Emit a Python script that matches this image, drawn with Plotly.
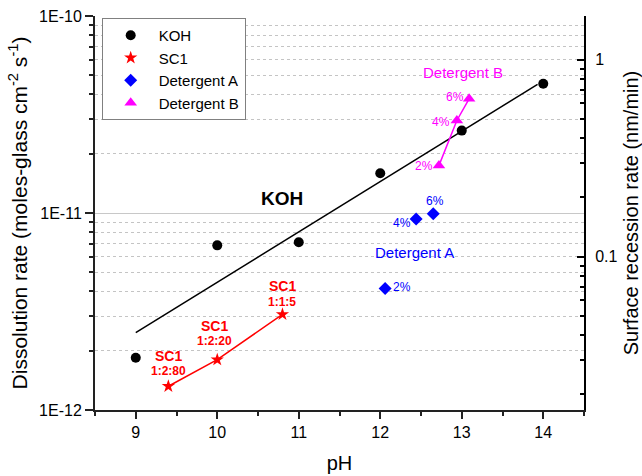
import math
import plotly.graph_objects as go

# ---------------- data ----------------
koh_ph = [9, 10, 11, 12, 13, 14]
koh_rate = [1.84e-12, 6.85e-12, 7.10e-12, 1.59e-11, 2.62e-11, 4.53e-11]

koh_fit_ph = [9.0, 13.93]
koh_fit_rate = [2.47e-12, 4.50e-11]

sc1_ph = [9.40, 10.0, 10.80]
sc1_rate = [1.32e-12, 1.80e-12, 3.06e-12]
sc1_ratio = ["1:2:80", "1:2:20", "1:1:5"]

detA_ph = [12.06, 12.44, 12.65]
detA_rate = [4.14e-12, 9.32e-12, 9.91e-12]
detA_conc = ["2%", "4%", "6%"]

detB_ph = [12.72, 12.94, 13.09]
detB_rate = [1.74e-11, 2.95e-11, 3.80e-11]
detB_conc = ["2%", "4%", "6%"]

x_ticks = [9, 10, 11, 12, 13, 14]
y_ticks = [1e-12, 1e-11, 1e-10]
y_ticktext = ["1E-12", "1E-11", "1E-10"]
y2_ticks = [0.1, 1]
y2_ticktext = ["0.1", "1"]

# conversion: nm/min of surface recession per (moles-glass cm^-2 s^-1)
recession_per_rate = 1.663e10

y_range = [-12, -10]
y2_range = [r + math.log10(recession_per_rate) for r in y_range]

FONT = "Liberation Sans, Arial, sans-serif"
RED = "#FF0000"
BLUE = "#0000FF"
MAG = "#FF00FF"

fig = go.Figure()

# KOH fit line
fig.add_trace(go.Scatter(x=koh_fit_ph, y=koh_fit_rate, mode="lines",
                         line=dict(color="black", width=1.5),
                         showlegend=False, hoverinfo="skip"))
# SC1 connecting line
fig.add_trace(go.Scatter(x=sc1_ph, y=sc1_rate, mode="lines",
                         line=dict(color=RED, width=1.5),
                         showlegend=False, hoverinfo="skip"))
# Detergent B connecting line
fig.add_trace(go.Scatter(x=detB_ph, y=detB_rate, mode="lines",
                         line=dict(color=MAG, width=1.5),
                         showlegend=False, hoverinfo="skip"))

fig.add_trace(go.Scatter(x=koh_ph, y=koh_rate, mode="markers", name="KOH",
                         marker=dict(symbol="circle", size=10, color="black")))
fig.add_trace(go.Scatter(x=sc1_ph, y=sc1_rate, mode="markers", name="SC1",
                         marker=dict(symbol="star", size=10, color=RED)))
fig.add_trace(go.Scatter(x=detA_ph, y=detA_rate, mode="markers", name="Detergent A",
                         marker=dict(symbol="diamond", size=10, color=BLUE)))
fig.add_trace(go.Scatter(x=detB_ph, y=detB_rate, mode="markers", name="Detergent B",
                         marker=dict(symbol="triangle-up", size=11, color=MAG)))

# invisible trace on the right axis (surface recession rate)
fig.add_trace(go.Scatter(x=koh_ph, y=[r * recession_per_rate for r in koh_rate],
                         yaxis="y2", mode="markers", marker=dict(opacity=0),
                         showlegend=False, hoverinfo="skip"))

annotations = []


def lab(text, ph, rate, color, size, bold=False):
    if bold:
        text = "<b>" + text + "</b>"
    annotations.append(dict(text=text, x=ph, y=math.log10(rate), xref="x", yref="y",
                            showarrow=False, xanchor="center", yanchor="middle",
                            font=dict(family=FONT, size=size, color=color)))


lab("KOH", 10.79, 1.19e-11, "black", 19, True)

sc1_lab_pos = [(9.40, 1.89e-12, 1.573e-12), (9.965, 2.685e-12, 2.234e-12),
               (10.795, 4.285e-12, 3.52e-12)]
for ratio, (ph, r1, r2) in zip(sc1_ratio, sc1_lab_pos):
    lab("SC1", ph, r1, RED, 14, True)
    lab(ratio, ph, r2, RED, 12, True)

lab("Detergent A", 12.419, 6.28e-12, BLUE, 15)
detA_lab_pos = [(12.268, 4.21e-12), (12.263, 8.87e-12), (12.677, 1.154e-11)]
for c, (ph, r) in zip(detA_conc, detA_lab_pos):
    lab(c, ph, r, BLUE, 12)

lab("Detergent B", 13.021, 5.15e-11, MAG, 15)
detB_lab_pos = [(12.538, 1.728e-11), (12.742, 2.91e-11), (12.923, 3.86e-11)]
for c, (ph, r) in zip(detB_conc, detB_lab_pos):
    lab(c, ph, r, MAG, 12)

minor_y = [m * 10 ** e for e in (-12, -11) for m in range(2, 10)]
minor_y2 = [m * 10 ** e for e in (-2, -1) for m in range(2, 10)]

fig.update_layout(
    width=642, height=476,
    margin=dict(l=95, r=58, t=16, b=66, autoexpand=False),
    paper_bgcolor="white", plot_bgcolor="white",
    font=dict(family=FONT, color="black"),
    showlegend=True,
    legend=dict(x=0.0137, y=0.995, xanchor="left", yanchor="top",
                bordercolor="#808080", borderwidth=1, bgcolor="white",
                font=dict(family=FONT, size=15, color="black"),
                itemwidth=46, tracegroupgap=0),
    annotations=annotations,
    xaxis=dict(range=[8.5, 14.5], tickvals=x_ticks, ticks="outside", ticklen=7,
               tickwidth=1.5, tickcolor="#222", showline=True, linecolor="#222",
               linewidth=2, showgrid=False, zeroline=False, automargin=False,
               tickfont=dict(size=16),
               minor=dict(dtick=0.5, ticks="outside", ticklen=4, tickwidth=1.5,
                          tickcolor="#222", showgrid=False),
               title=dict(text="pH", font=dict(size=20), standoff=16)),
    yaxis=dict(type="log", range=y_range, tickvals=y_ticks, ticktext=y_ticktext,
               ticks="outside", ticklen=8, tickwidth=1.5, tickcolor="#222",
               showline=True, linecolor="#222", linewidth=2, automargin=False,
               showgrid=True, gridcolor="#c8c8c8", gridwidth=1, zeroline=False,
               tickfont=dict(size=16),
               minor=dict(tickmode="array", tickvals=minor_y, ticks="outside",
                          ticklen=4, tickwidth=1.5, tickcolor="#222",
                          showgrid=True, gridcolor="#c4c4c4", griddash="dot",
                          gridwidth=1),
               title=dict(text="Dissolution rate (moles-glass cm<sup>-2</sup> s<sup>-1</sup>)",
                          font=dict(size=21), standoff=6)),
    yaxis2=dict(type="log", range=y2_range, overlaying="y", side="right",
                tickvals=y2_ticks, ticktext=y2_ticktext, ticks="inside",
                ticklen=7, tickwidth=1.5, tickcolor="black", automargin=False,
                showline=True, linecolor="black", linewidth=2,
                showgrid=False, zeroline=False, tickfont=dict(size=16),
                ticklabelstandoff=6,
                minor=dict(tickmode="array", tickvals=minor_y2, ticks="inside",
                           ticklen=4, tickwidth=1.5, tickcolor="black",
                           showgrid=False),
                title=dict(text="Surface recession rate (nm/min)",
                           font=dict(size=20), standoff=8)),
)

fig.write_html("out.html", config={"displayModeBar": False},
               post_script="document.body.style.margin='0px';")
